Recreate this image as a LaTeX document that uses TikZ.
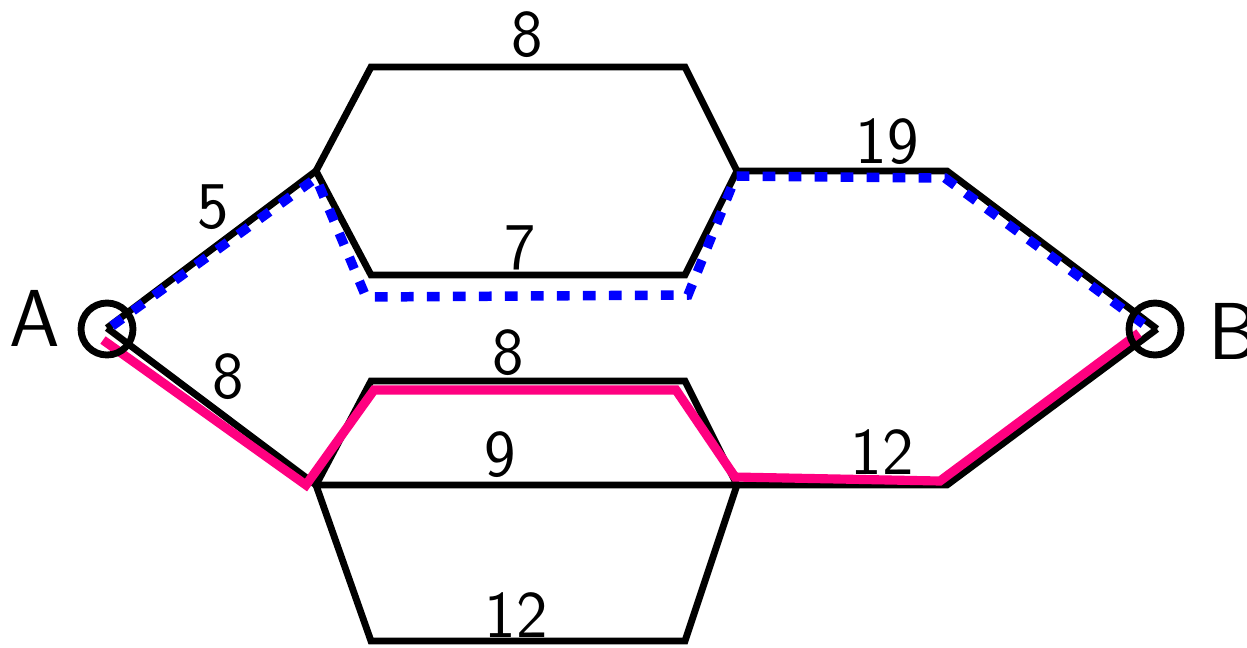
\documentclass[tikz,border=0pt]{standalone}
\usetikzlibrary{calc}
\definecolor{pathpink}{RGB}{255,0,128}
\definecolor{pathblue}{RGB}{0,0,255}
\tikzset{
  edge/.style={draw=black,line width=3.9pt,line join=miter},
  bluepath/.style={draw=pathblue,line width=5.4pt,dash pattern=on 7.2pt off 7.6pt},
  pinkpath/.style={draw=pathpink,line width=5.2pt,line join=miter},
  term/.style={draw=black,line width=3.9pt,circle,minimum size=1.04cm,inner sep=0pt},
  wlabel/.style={font=\sffamily\fontsize{38}{40}\selectfont,inner sep=0pt},
  tlabel/.style={font=\sffamily\fontsize{46}{48}\selectfont,inner sep=0pt}
}
\begin{document}
\begin{tikzpicture}[x=0.02cm,y=-0.02cm]
\useasboundingbox (0,0) rectangle (1247,647);
% vertices
\coordinate (A) at (107,328);
\coordinate (B) at (1157,329);
\coordinate (u1) at (316,171);
\coordinate (u2) at (371,67);
\coordinate (u3) at (685,67);
\coordinate (u4) at (737,171);
\coordinate (u5) at (685,275);
\coordinate (u6) at (371,275);
\coordinate (r1) at (947,171);
\coordinate (l1) at (316,485);
\coordinate (l2) at (371,381);
\coordinate (l3) at (685,381);
\coordinate (l4) at (737,485);
\coordinate (l5) at (685,641);
\coordinate (l6) at (371,641);
\coordinate (r2) at (947,485);
% blue path points
\coordinate (b0) at (112,326);
\coordinate (b1) at (316,178);
\coordinate (b2) at (366,297);
\coordinate (b3) at (688,295);
\coordinate (b4) at (736,176);
\coordinate (b5) at (945,178);
\coordinate (b6) at (1146,326);
% pink path points
\coordinate (p0) at (103,340);
\coordinate (p1) at (306,485);
\coordinate (p2) at (374,390);
\coordinate (p3) at (676,390);
\coordinate (p4) at (735,477);
\coordinate (p5) at (940,481);
\coordinate (p6) at (1139,333);
% black graph
\draw[edge] (A) -- (u1);
\draw[edge] (u1) -- (u2) -- (u3) -- (u4) -- (u5) -- (u6) -- cycle;
\draw[edge] (u4) -- (r1) -- (B);
\draw[edge] (A) -- (l1);
\draw[edge] (l1) -- (l2) -- (l3) -- (l4) -- (l5) -- (l6) -- cycle;
\draw[edge] (l1) -- (l4) -- (r2) -- (B);
% highlighted paths
\draw[bluepath] (b0) -- (b1) -- (b2) -- (b3) -- (b4) -- (b5) -- (b6);
\draw[pinkpath] (p0) -- (p1) -- (p2) -- (p3) -- (p4) -- (p5) -- (p6);
% terminals
\node[term] (cA) at (107,329) {};
\node[term] (cB) at (1155,329) {};
\node[tlabel] (tA) at (35,318) {A};
\node[tlabel] (tB) at (1234,331) {B};
% weights
\node[wlabel] (w1) at (527,35) {8};
\node[wlabel] (w2) at (887,142) {19};
\node[wlabel] (w3) at (213,207) {5};
\node[wlabel] (w4) at (520,248) {7};
\node[wlabel] (w5) at (228,377) {8};
\node[wlabel] (w6) at (508,353) {8};
\node[wlabel] (w7) at (500,455) {9};
\node[wlabel] (w8) at (882,452) {12};
\node[wlabel] (w9) at (516,615) {12};
\end{tikzpicture}
\end{document}
